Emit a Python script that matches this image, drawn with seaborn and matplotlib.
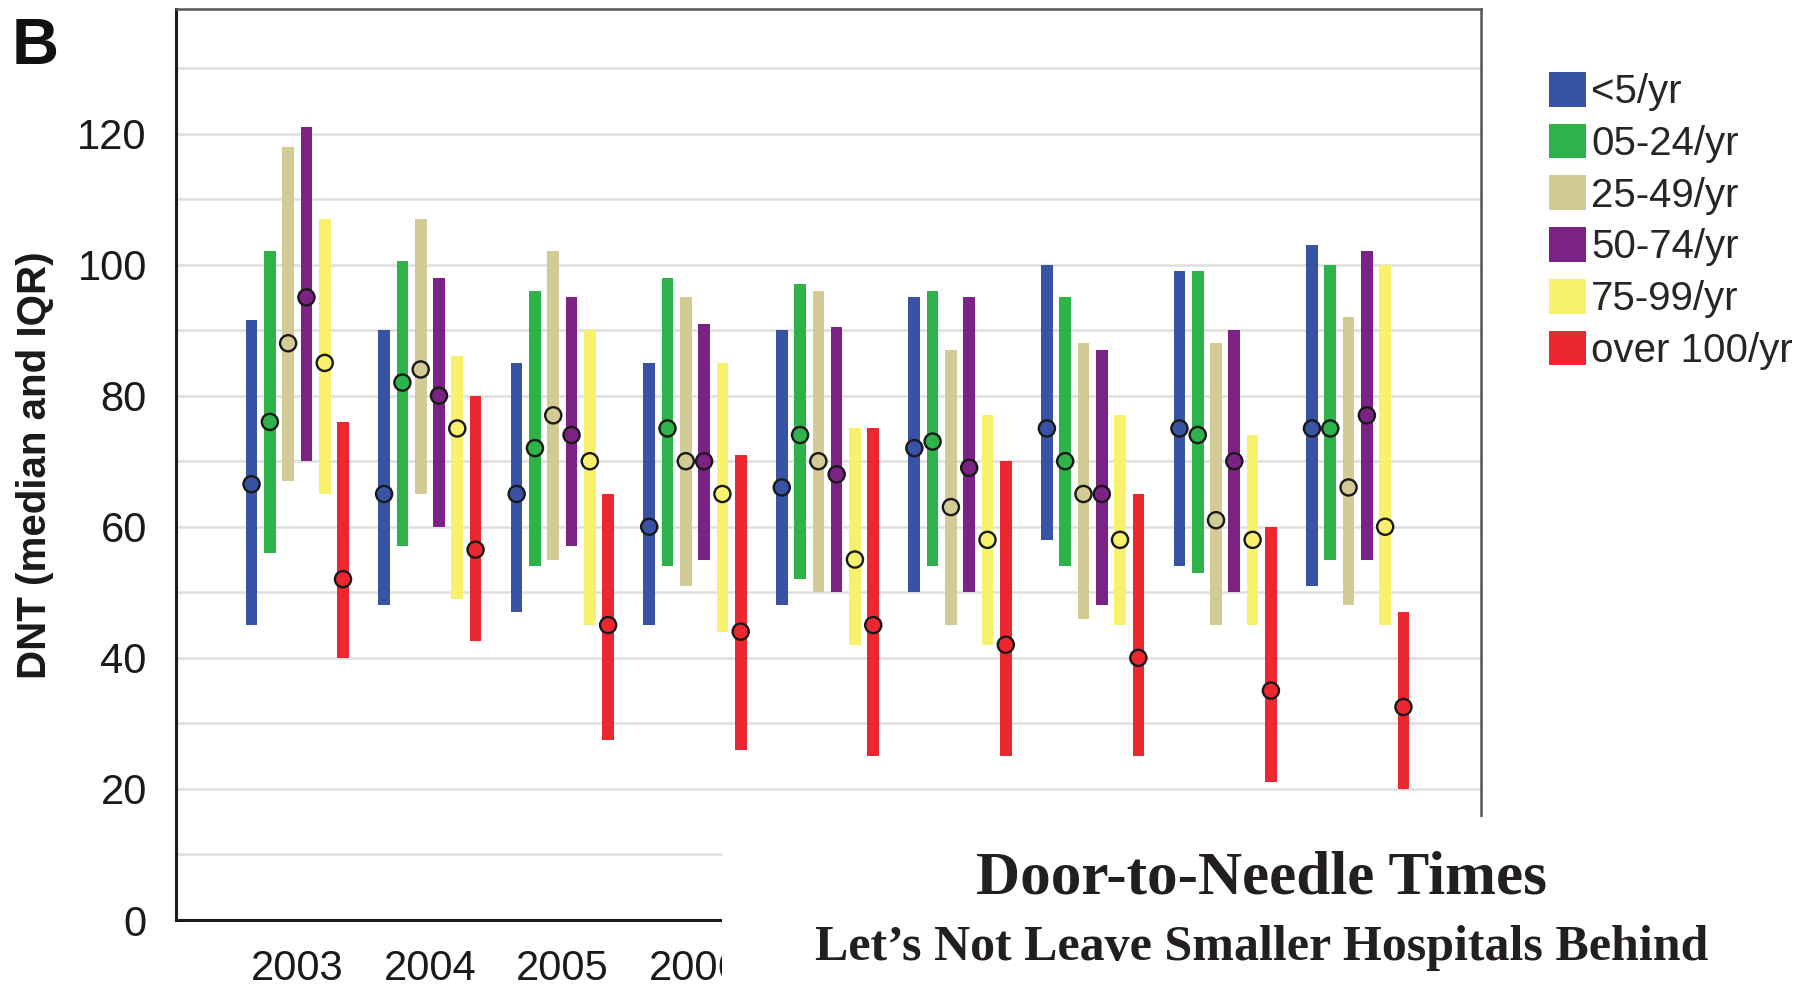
import matplotlib
matplotlib.use("Agg")
import matplotlib.pyplot as plt
from matplotlib.patches import Patch, Rectangle
import pandas as pd
import seaborn as sns

# ---- data: door-to-needle time (minutes), median and IQR by hospital volume ----
years = ["2003", "2004", "2005", "2006", "2007", "2008", "2009", "2010", "2011"]
groups = ["<5/yr", "05-24/yr", "25-49/yr", "50-74/yr", "75-99/yr", "over 100/yr"]
colors = ["#3953a4", "#2db34a", "#d3cb96", "#7b2384", "#f7f16c", "#ec2730"]

lt5_q1 = [45, 48, 47, 45, 48, 50, 58, 54, 51]
lt5_med = [66.5, 65, 65, 60, 66, 72, 75, 75, 75]
lt5_q3 = [91.5, 90, 85, 85, 90, 95, 100, 99, 103]

v05_24_q1 = [56, 57, 54, 54, 52, 54, 54, 53, 55]
v05_24_med = [76, 82, 72, 75, 74, 73, 70, 74, 75]
v05_24_q3 = [102, 100.5, 96, 98, 97, 96, 95, 99, 100]

v25_49_q1 = [67, 65, 55, 51, 50, 45, 46, 45, 48]
v25_49_med = [88, 84, 77, 70, 70, 63, 65, 61, 66]
v25_49_q3 = [118, 107, 102, 95, 96, 87, 88, 88, 92]

v50_74_q1 = [70, 60, 57, 55, 50, 50, 48, 50, 55]
v50_74_med = [95, 80, 74, 70, 68, 69, 65, 70, 77]
v50_74_q3 = [121, 98, 95, 91, 90.5, 95, 87, 90, 102]

v75_99_q1 = [65, 49, 45, 44, 42, 42, 45, 45, 45]
v75_99_med = [85, 75, 70, 65, 55, 58, 58, 58, 60]
v75_99_q3 = [107, 86, 90, 85, 75, 77, 77, 74, 100]

over100_q1 = [40, 42.5, 27.5, 26, 25, 25, 25, 21, 20]
over100_med = [52, 56.5, 45, 44, 45, 42, 40, 35, 32.5]
over100_q3 = [76, 80, 65, 71, 75, 70, 65, 60, 47]

q1_by_group = [lt5_q1, v05_24_q1, v25_49_q1, v50_74_q1, v75_99_q1, over100_q1]
med_by_group = [lt5_med, v05_24_med, v25_49_med, v50_74_med, v75_99_med, over100_med]
q3_by_group = [lt5_q3, v05_24_q3, v25_49_q3, v50_74_q3, v75_99_q3, over100_q3]

# ---- long-form table ----
step = 0.138
rows = []
for k, g in enumerate(groups):
    for i, y in enumerate(years):
        rows.append({
            "year": y, "group": g,
            "x": i + (k - 2.5) * step,
            "q1": q1_by_group[k][i],
            "median": med_by_group[k][i],
            "q3": q3_by_group[k][i],
        })
df = pd.DataFrame(rows)
palette = dict(zip(groups, colors))

# ---- figure ----
sns.set_style("white")
plt.rcParams["font.family"] = ["Liberation Sans", "DejaVu Sans"]

fig = plt.figure(figsize=(18.14, 9.93), dpi=100)
ax = fig.add_axes([176 / 1814, 1 - 920 / 993, (1481 - 176) / 1814, (920 - 9) / 993])

# IQR bars
ax.bar(df["x"], df["q3"] - df["q1"], bottom=df["q1"], width=0.088,
       color=df["group"].map(palette), edgecolor="none", zorder=2)

# medians
sns.scatterplot(data=df, x="x", y="median", hue="group", palette=palette,
                hue_order=groups, s=135, edgecolor="#1a1a1a", linewidth=1.7,
                legend=False, zorder=3, ax=ax)

ax.set_xlim(-0.915, 8.93)
ax.set_ylim(0, 139)
ax.set_xticks(range(len(years)))
# the title banner covers the axis from 2007 on, so only the first labels are shown
ax.set_xticklabels([y if i < 4 else "" for i, y in enumerate(years)])
ax.set_yticks(range(0, 121, 20))
ax.set_yticks(range(10, 140, 20), minor=True)
ax.set_xlabel("")
ax.set_ylabel("")
ax.grid(axis="y", which="both", color="#dedede", linewidth=1.8, zorder=0)
ax.grid(axis="x", visible=False)
ax.set_axisbelow(True)

ax.tick_params(axis="both", which="major", labelsize=30, length=19, width=2,
               pad=2, color="#1a1a1a", labelcolor="#1a1a1a")
ax.tick_params(axis="y", which="minor", length=0)
for side in ("left", "bottom"):
    ax.spines[side].set_color("#1a1a1a")
    ax.spines[side].set_linewidth(2.2)
for side in ("top", "right"):
    ax.spines[side].set_color("#555555")
    ax.spines[side].set_linewidth(1.8)

# axis title and panel letter
fig.text(35 / 1814, 1 - 465 / 993, "DNT (median and IQR)", rotation=90,
         ha="center", va="center", fontsize=29, fontweight="bold", color="#1a1a1a")
fig.text(12 / 1814, 1 - 64 / 993, "B", ha="left", va="baseline",
         fontsize=47, fontweight="bold", color="#111111")

# legend
handles = [Patch(facecolor=c, edgecolor="none", label=g) for g, c in zip(groups, colors)]
fig.legend(handles=handles, loc="upper left", bbox_to_anchor=(1549 / 1814, 1 - 72 / 993),
           frameon=False, fontsize=29, handlelength=0.92, handleheight=0.95,
           handletextpad=0.12, labelspacing=0.31, borderpad=0, borderaxespad=0)

# banner with the article title
fig.add_artist(Rectangle((722 / 1814, 0), 1 - 722 / 1814, (993 - 817) / 993,
                         transform=fig.transFigure, facecolor="white",
                         edgecolor="none", zorder=5))
fig.text(1262 / 1814, 1 - 894 / 993, "Door-to-Needle Times", ha="center", va="baseline",
         fontsize=44, fontweight="bold", family=["Liberation Serif", "DejaVu Serif"],
         color="#231f20", zorder=6)
fig.text(1262 / 1814, 1 - 960 / 993, "Let\u2019s Not Leave Smaller Hospitals Behind",
         ha="center", va="baseline", fontsize=36, fontweight="bold",
         family=["Liberation Serif", "DejaVu Serif"], color="#231f20", zorder=6)

fig.savefig("out.png", dpi=100)
